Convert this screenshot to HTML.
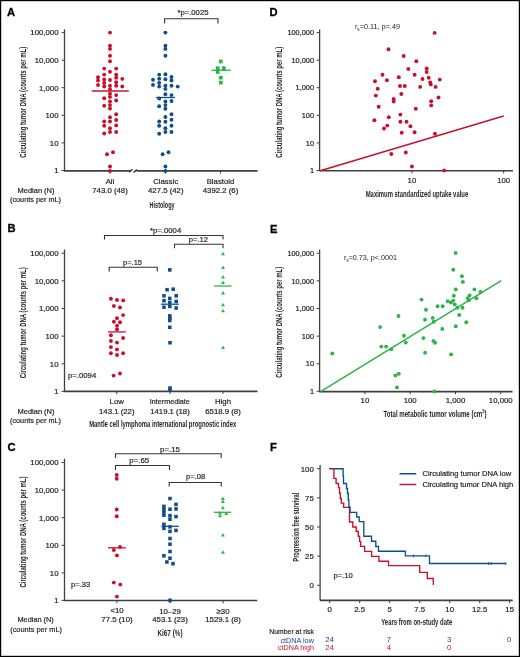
<!DOCTYPE html>
<html><head><meta charset="utf-8"><style>
html,body{margin:0;padding:0;background:#fff;}
svg{display:block;will-change:transform;font-family:"Liberation Sans",sans-serif;}
</style></head><body>
<svg width="520" height="657" viewBox="0 0 520 657">
<rect x="0" y="0" width="520" height="657" fill="#fff"/>
<text x="6.9" y="15.93" text-anchor="start" font-size="11.2" fill="#000" font-weight="bold" stroke="#000" stroke-width="0.3">A</text>
<text x="7.5" y="232.03" text-anchor="start" font-size="11.2" fill="#000" font-weight="bold" stroke="#000" stroke-width="0.3">B</text>
<text x="7.5" y="451.43" text-anchor="start" font-size="11.2" fill="#000" font-weight="bold" stroke="#000" stroke-width="0.3">C</text>
<text x="269.5" y="16.43" text-anchor="start" font-size="11.2" fill="#000" font-weight="bold" stroke="#000" stroke-width="0.3">D</text>
<text x="270" y="232.53" text-anchor="start" font-size="11.2" fill="#000" font-weight="bold" stroke="#000" stroke-width="0.3">E</text>
<text x="270" y="451.43" text-anchor="start" font-size="11.2" fill="#000" font-weight="bold" stroke="#000" stroke-width="0.3">F</text>
<line x1="64.5" y1="29.3" x2="64.5" y2="170.8" stroke="#404040" stroke-width="1.3"/>
<line x1="61.5" y1="32.6" x2="64.5" y2="32.6" stroke="#404040" stroke-width="1"/>
<text x="58.5" y="35.41" text-anchor="end" font-size="7.8" fill="#231f20" font-weight="normal" stroke="#231f20" stroke-width="0.2">100,000</text>
<line x1="61.5" y1="60.2" x2="64.5" y2="60.2" stroke="#404040" stroke-width="1"/>
<text x="58.5" y="63.01" text-anchor="end" font-size="7.8" fill="#231f20" font-weight="normal" stroke="#231f20" stroke-width="0.2">10,000</text>
<line x1="61.5" y1="87.7" x2="64.5" y2="87.7" stroke="#404040" stroke-width="1"/>
<text x="58.5" y="90.51" text-anchor="end" font-size="7.8" fill="#231f20" font-weight="normal" stroke="#231f20" stroke-width="0.2">1,000</text>
<line x1="61.5" y1="115.3" x2="64.5" y2="115.3" stroke="#404040" stroke-width="1"/>
<text x="58.5" y="118.11" text-anchor="end" font-size="7.8" fill="#231f20" font-weight="normal" stroke="#231f20" stroke-width="0.2">100</text>
<line x1="61.5" y1="142.9" x2="64.5" y2="142.9" stroke="#404040" stroke-width="1"/>
<text x="58.5" y="145.71" text-anchor="end" font-size="7.8" fill="#231f20" font-weight="normal" stroke="#231f20" stroke-width="0.2">10</text>
<line x1="61.5" y1="170.5" x2="64.5" y2="170.5" stroke="#404040" stroke-width="1"/>
<text x="58.5" y="173.31" text-anchor="end" font-size="7.8" fill="#231f20" font-weight="normal" stroke="#231f20" stroke-width="0.2">1</text>
<text transform="translate(22.6 102.3) rotate(-90)" x="0" y="2.95" text-anchor="middle" font-size="8.2" fill="#231f20" font-weight="bold" textLength="111" lengthAdjust="spacingAndGlyphs">Circulating tumor DNA (counts per mL)</text>
<line x1="63.8" y1="170.8" x2="130" y2="170.8" stroke="#404040" stroke-width="1.7"/>
<line x1="136.5" y1="170.8" x2="257.5" y2="170.8" stroke="#404040" stroke-width="1.7"/>
<line x1="129.2" y1="172.3" x2="132.4" y2="169.2" stroke="#222" stroke-width="1.3"/>
<line x1="133.6" y1="172.5" x2="136.8" y2="169.5" stroke="#222" stroke-width="1.3"/>
<line x1="110" y1="170.8" x2="110" y2="173.6" stroke="#404040" stroke-width="1"/>
<line x1="165.4" y1="170.8" x2="165.4" y2="173.6" stroke="#404040" stroke-width="1"/>
<line x1="220.5" y1="170.8" x2="220.5" y2="173.6" stroke="#404040" stroke-width="1"/>
<circle cx="110" cy="32.6" r="1.95" fill="#c8102e"/>
<circle cx="110" cy="45.8" r="1.95" fill="#c8102e"/>
<circle cx="110" cy="48.9" r="1.95" fill="#c8102e"/>
<circle cx="110" cy="55.8" r="1.95" fill="#c8102e"/>
<circle cx="110" cy="61.2" r="1.95" fill="#c8102e"/>
<circle cx="104.2" cy="68.6" r="1.95" fill="#c8102e"/>
<circle cx="116.2" cy="68.6" r="1.95" fill="#c8102e"/>
<circle cx="110" cy="71.7" r="1.95" fill="#c8102e"/>
<circle cx="104.2" cy="74.6" r="1.95" fill="#c8102e"/>
<circle cx="116.2" cy="74.6" r="1.95" fill="#c8102e"/>
<circle cx="98" cy="77.2" r="1.95" fill="#c8102e"/>
<circle cx="116.2" cy="77.7" r="1.95" fill="#c8102e"/>
<circle cx="122.3" cy="78.9" r="1.95" fill="#c8102e"/>
<circle cx="104.2" cy="79.5" r="1.95" fill="#c8102e"/>
<circle cx="110" cy="80" r="1.95" fill="#c8102e"/>
<circle cx="98" cy="80.5" r="1.95" fill="#c8102e"/>
<circle cx="116.2" cy="82.3" r="1.95" fill="#c8102e"/>
<circle cx="104.2" cy="83" r="1.95" fill="#c8102e"/>
<circle cx="98" cy="85" r="1.95" fill="#c8102e"/>
<circle cx="104.2" cy="86.5" r="1.95" fill="#c8102e"/>
<circle cx="110" cy="85.8" r="1.95" fill="#c8102e"/>
<circle cx="116.2" cy="85.8" r="1.95" fill="#c8102e"/>
<circle cx="122.3" cy="86.5" r="1.95" fill="#c8102e"/>
<circle cx="110" cy="89.2" r="1.95" fill="#c8102e"/>
<circle cx="110" cy="93.8" r="1.95" fill="#c8102e"/>
<circle cx="110" cy="96.9" r="1.95" fill="#c8102e"/>
<circle cx="116.2" cy="95.1" r="1.95" fill="#c8102e"/>
<circle cx="104.2" cy="98.2" r="1.95" fill="#c8102e"/>
<circle cx="116.2" cy="100.5" r="1.95" fill="#c8102e"/>
<circle cx="110" cy="101.5" r="1.95" fill="#c8102e"/>
<circle cx="104.2" cy="105.8" r="1.95" fill="#c8102e"/>
<circle cx="110" cy="105.1" r="1.95" fill="#c8102e"/>
<circle cx="110" cy="108.5" r="1.95" fill="#c8102e"/>
<circle cx="116.2" cy="114.3" r="1.95" fill="#c8102e"/>
<circle cx="110" cy="117.2" r="1.95" fill="#c8102e"/>
<circle cx="104.2" cy="121.5" r="1.95" fill="#c8102e"/>
<circle cx="110" cy="121.5" r="1.95" fill="#c8102e"/>
<circle cx="116.2" cy="120" r="1.95" fill="#c8102e"/>
<circle cx="104.2" cy="125.8" r="1.95" fill="#c8102e"/>
<circle cx="116.2" cy="125.4" r="1.95" fill="#c8102e"/>
<circle cx="110" cy="128.2" r="1.95" fill="#c8102e"/>
<circle cx="110" cy="132" r="1.95" fill="#c8102e"/>
<circle cx="116.2" cy="132" r="1.95" fill="#c8102e"/>
<circle cx="104.2" cy="133.5" r="1.95" fill="#c8102e"/>
<circle cx="107" cy="154.2" r="1.95" fill="#c8102e"/>
<circle cx="113" cy="152.3" r="1.95" fill="#c8102e"/>
<circle cx="110" cy="166.5" r="1.95" fill="#c8102e"/>
<circle cx="110" cy="171" r="1.95" fill="#c8102e"/>
<line x1="91.8" y1="91" x2="128.8" y2="91" stroke="#c8102e" stroke-width="1.3"/>
<circle cx="165.4" cy="32.6" r="1.95" fill="#0e4e8b"/>
<circle cx="165.4" cy="45.8" r="1.95" fill="#0e4e8b"/>
<circle cx="165.4" cy="48.9" r="1.95" fill="#0e4e8b"/>
<circle cx="165.4" cy="55.8" r="1.95" fill="#0e4e8b"/>
<circle cx="159.2" cy="74.6" r="1.95" fill="#0e4e8b"/>
<circle cx="165.4" cy="74.3" r="1.95" fill="#0e4e8b"/>
<circle cx="171.5" cy="77" r="1.95" fill="#0e4e8b"/>
<circle cx="153" cy="79.7" r="1.95" fill="#0e4e8b"/>
<circle cx="159.2" cy="78.8" r="1.95" fill="#0e4e8b"/>
<circle cx="165.4" cy="79.2" r="1.95" fill="#0e4e8b"/>
<circle cx="171.5" cy="80.5" r="1.95" fill="#0e4e8b"/>
<circle cx="153" cy="84.9" r="1.95" fill="#0e4e8b"/>
<circle cx="159.2" cy="83" r="1.95" fill="#0e4e8b"/>
<circle cx="159.2" cy="86.6" r="1.95" fill="#0e4e8b"/>
<circle cx="165.4" cy="85.8" r="1.95" fill="#0e4e8b"/>
<circle cx="171.5" cy="85.8" r="1.95" fill="#0e4e8b"/>
<circle cx="177.7" cy="86.6" r="1.95" fill="#0e4e8b"/>
<circle cx="165.4" cy="88.9" r="1.95" fill="#0e4e8b"/>
<circle cx="165.4" cy="94.3" r="1.95" fill="#0e4e8b"/>
<circle cx="171.5" cy="95.1" r="1.95" fill="#0e4e8b"/>
<circle cx="159.2" cy="98.5" r="1.95" fill="#0e4e8b"/>
<circle cx="165.4" cy="101.5" r="1.95" fill="#0e4e8b"/>
<circle cx="171.5" cy="101" r="1.95" fill="#0e4e8b"/>
<circle cx="159.2" cy="106.2" r="1.95" fill="#0e4e8b"/>
<circle cx="165.4" cy="105.1" r="1.95" fill="#0e4e8b"/>
<circle cx="165.4" cy="108.8" r="1.95" fill="#0e4e8b"/>
<circle cx="171.5" cy="114.3" r="1.95" fill="#0e4e8b"/>
<circle cx="165.4" cy="117" r="1.95" fill="#0e4e8b"/>
<circle cx="171.5" cy="119.7" r="1.95" fill="#0e4e8b"/>
<circle cx="159.2" cy="121.5" r="1.95" fill="#0e4e8b"/>
<circle cx="165.4" cy="121.8" r="1.95" fill="#0e4e8b"/>
<circle cx="159.2" cy="125.8" r="1.95" fill="#0e4e8b"/>
<circle cx="171.5" cy="125.8" r="1.95" fill="#0e4e8b"/>
<circle cx="165.4" cy="128.2" r="1.95" fill="#0e4e8b"/>
<circle cx="165.4" cy="132" r="1.95" fill="#0e4e8b"/>
<circle cx="171.5" cy="132" r="1.95" fill="#0e4e8b"/>
<circle cx="159.2" cy="133.8" r="1.95" fill="#0e4e8b"/>
<circle cx="162.6" cy="154.2" r="1.95" fill="#0e4e8b"/>
<circle cx="168.5" cy="152.3" r="1.95" fill="#0e4e8b"/>
<circle cx="165.4" cy="166.5" r="1.95" fill="#0e4e8b"/>
<circle cx="165.4" cy="171" r="1.95" fill="#0e4e8b"/>
<line x1="156" y1="97.5" x2="175" y2="97.5" stroke="#0e4e8b" stroke-width="1.3"/>
<rect x="218.95" y="59.65" width="3.7" height="3.7" fill="#2db34a"/>
<rect x="215.85" y="66.35" width="3.7" height="3.7" fill="#2db34a"/>
<rect x="221.95" y="66.35" width="3.7" height="3.7" fill="#2db34a"/>
<rect x="215.85" y="70.15" width="3.7" height="3.7" fill="#2db34a"/>
<rect x="218.95" y="75.85" width="3.7" height="3.7" fill="#2db34a"/>
<rect x="218.95" y="80.75" width="3.7" height="3.7" fill="#2db34a"/>
<line x1="211.5" y1="70.3" x2="230.8" y2="70.3" stroke="#2db34a" stroke-width="1.3"/>
<path d="M164.6 23.4V18.8H218V23.4" fill="none" stroke="#333" stroke-width="1.1"/>
<text x="192.95" y="15.41" text-anchor="middle" font-size="7.8" fill="#231f20" font-weight="normal" textLength="31.1" lengthAdjust="spacingAndGlyphs" stroke="#231f20" stroke-width="0.2">*p=.0025</text>
<text x="110" y="184.11" text-anchor="middle" font-size="7.8" fill="#231f20" font-weight="normal" stroke="#231f20" stroke-width="0.2">All</text>
<text x="110" y="192.91" text-anchor="middle" font-size="7.8" fill="#231f20" font-weight="normal" textLength="35.5" lengthAdjust="spacingAndGlyphs" stroke="#231f20" stroke-width="0.2">743.0 (48)</text>
<text x="165.75" y="184.11" text-anchor="middle" font-size="7.8" fill="#231f20" font-weight="normal" stroke="#231f20" stroke-width="0.2">Classic</text>
<text x="165.75" y="192.91" text-anchor="middle" font-size="7.8" fill="#231f20" font-weight="normal" textLength="35.5" lengthAdjust="spacingAndGlyphs" stroke="#231f20" stroke-width="0.2">427.5 (42)</text>
<text x="220.5" y="184.11" text-anchor="middle" font-size="7.8" fill="#231f20" font-weight="normal" stroke="#231f20" stroke-width="0.2">Blastoid</text>
<text x="220.5" y="192.91" text-anchor="middle" font-size="7.8" fill="#231f20" font-weight="normal" textLength="35.5" lengthAdjust="spacingAndGlyphs" stroke="#231f20" stroke-width="0.2">4392.2 (6)</text>
<text x="36" y="193.31" text-anchor="middle" font-size="7.8" fill="#231f20" font-weight="normal" textLength="37" lengthAdjust="spacingAndGlyphs" stroke="#231f20" stroke-width="0.2">Median (N)</text>
<text x="35.5" y="201.81" text-anchor="middle" font-size="7.8" fill="#231f20" font-weight="normal" textLength="51" lengthAdjust="spacingAndGlyphs" stroke="#231f20" stroke-width="0.2">(counts per mL)</text>
<text x="162.1" y="207.61" text-anchor="middle" font-size="9.2" fill="#231f20" font-weight="bold" textLength="25" lengthAdjust="spacingAndGlyphs">Histology</text>
<line x1="64.5" y1="249.5" x2="64.5" y2="391.6" stroke="#404040" stroke-width="1.3"/>
<line x1="61.5" y1="253.2" x2="64.5" y2="253.2" stroke="#404040" stroke-width="1"/>
<text x="58.5" y="256.01" text-anchor="end" font-size="7.8" fill="#231f20" font-weight="normal" stroke="#231f20" stroke-width="0.2">100,000</text>
<line x1="61.5" y1="280.85" x2="64.5" y2="280.85" stroke="#404040" stroke-width="1"/>
<text x="58.5" y="283.66" text-anchor="end" font-size="7.8" fill="#231f20" font-weight="normal" stroke="#231f20" stroke-width="0.2">10,000</text>
<line x1="61.5" y1="308.5" x2="64.5" y2="308.5" stroke="#404040" stroke-width="1"/>
<text x="58.5" y="311.31" text-anchor="end" font-size="7.8" fill="#231f20" font-weight="normal" stroke="#231f20" stroke-width="0.2">1,000</text>
<line x1="61.5" y1="336.15" x2="64.5" y2="336.15" stroke="#404040" stroke-width="1"/>
<text x="58.5" y="338.96" text-anchor="end" font-size="7.8" fill="#231f20" font-weight="normal" stroke="#231f20" stroke-width="0.2">100</text>
<line x1="61.5" y1="363.8" x2="64.5" y2="363.8" stroke="#404040" stroke-width="1"/>
<text x="58.5" y="366.61" text-anchor="end" font-size="7.8" fill="#231f20" font-weight="normal" stroke="#231f20" stroke-width="0.2">10</text>
<line x1="61.5" y1="391.3" x2="64.5" y2="391.3" stroke="#404040" stroke-width="1"/>
<text x="58.5" y="394.11" text-anchor="end" font-size="7.8" fill="#231f20" font-weight="normal" stroke="#231f20" stroke-width="0.2">1</text>
<text transform="translate(22.6 322.8) rotate(-90)" x="0" y="2.95" text-anchor="middle" font-size="8.2" fill="#231f20" font-weight="bold" textLength="111" lengthAdjust="spacingAndGlyphs">Circulating tumor DNA (counts per mL)</text>
<line x1="63.8" y1="391.4" x2="257.5" y2="391.4" stroke="#404040" stroke-width="1.7"/>
<line x1="116.75" y1="391.4" x2="116.75" y2="394" stroke="#404040" stroke-width="1"/>
<line x1="170" y1="391.4" x2="170" y2="394" stroke="#404040" stroke-width="1"/>
<line x1="223" y1="391.4" x2="223" y2="394" stroke="#404040" stroke-width="1"/>
<circle cx="110.9" cy="298.8" r="1.95" fill="#c8102e"/>
<circle cx="117" cy="300" r="1.95" fill="#c8102e"/>
<circle cx="123.2" cy="300.4" r="1.95" fill="#c8102e"/>
<circle cx="113.9" cy="306" r="1.95" fill="#c8102e"/>
<circle cx="120" cy="307.5" r="1.95" fill="#c8102e"/>
<circle cx="123.1" cy="315.1" r="1.95" fill="#c8102e"/>
<circle cx="117" cy="318.2" r="1.95" fill="#c8102e"/>
<circle cx="113.9" cy="321.7" r="1.95" fill="#c8102e"/>
<circle cx="120" cy="322.3" r="1.95" fill="#c8102e"/>
<circle cx="117" cy="325.6" r="1.95" fill="#c8102e"/>
<circle cx="117" cy="329.3" r="1.95" fill="#c8102e"/>
<circle cx="110.9" cy="335.2" r="1.95" fill="#c8102e"/>
<circle cx="123.1" cy="338" r="1.95" fill="#c8102e"/>
<circle cx="110.9" cy="341" r="1.95" fill="#c8102e"/>
<circle cx="117" cy="342.6" r="1.95" fill="#c8102e"/>
<circle cx="110.9" cy="347.1" r="1.95" fill="#c8102e"/>
<circle cx="117" cy="349.4" r="1.95" fill="#c8102e"/>
<circle cx="110.9" cy="353.2" r="1.95" fill="#c8102e"/>
<circle cx="117" cy="355" r="1.95" fill="#c8102e"/>
<circle cx="123.1" cy="353.2" r="1.95" fill="#c8102e"/>
<circle cx="113.6" cy="375.6" r="1.95" fill="#c8102e"/>
<circle cx="120" cy="373.5" r="1.95" fill="#c8102e"/>
<line x1="108" y1="331.9" x2="125.8" y2="331.9" stroke="#c8102e" stroke-width="1.3"/>
<rect x="168.03" y="268.12" width="3.55" height="3.55" fill="#0e4e8b"/>
<rect x="165.32" y="287.93" width="3.55" height="3.55" fill="#0e4e8b"/>
<rect x="171.42" y="287.43" width="3.55" height="3.55" fill="#0e4e8b"/>
<rect x="162.22" y="294.03" width="3.55" height="3.55" fill="#0e4e8b"/>
<rect x="174.42" y="294.03" width="3.55" height="3.55" fill="#0e4e8b"/>
<rect x="168.03" y="296.62" width="3.55" height="3.55" fill="#0e4e8b"/>
<rect x="162.22" y="298.93" width="3.55" height="3.55" fill="#0e4e8b"/>
<rect x="174.42" y="299.62" width="3.55" height="3.55" fill="#0e4e8b"/>
<rect x="168.03" y="300.73" width="3.55" height="3.55" fill="#0e4e8b"/>
<rect x="162.22" y="305.43" width="3.55" height="3.55" fill="#0e4e8b"/>
<rect x="168.03" y="304.62" width="3.55" height="3.55" fill="#0e4e8b"/>
<rect x="174.42" y="306.23" width="3.55" height="3.55" fill="#0e4e8b"/>
<rect x="168.03" y="314.12" width="3.55" height="3.55" fill="#0e4e8b"/>
<rect x="168.03" y="316.43" width="3.55" height="3.55" fill="#0e4e8b"/>
<rect x="168.03" y="318.73" width="3.55" height="3.55" fill="#0e4e8b"/>
<rect x="168.03" y="325.53" width="3.55" height="3.55" fill="#0e4e8b"/>
<rect x="168.22" y="340.93" width="3.55" height="3.55" fill="#0e4e8b"/>
<rect x="168.22" y="386.23" width="3.55" height="3.55" fill="#0e4e8b"/>
<rect x="168.22" y="388.43" width="3.55" height="3.55" fill="#0e4e8b"/>
<line x1="161" y1="304.2" x2="178.8" y2="304.2" stroke="#0e4e8b" stroke-width="1.3"/>
<path d="M223 251.65L224.95 255.16L221.05 255.16Z" fill="#2db34a"/>
<path d="M223 265.44L224.95 268.95L221.05 268.95Z" fill="#2db34a"/>
<path d="M223 275.05L224.95 278.56L221.05 278.56Z" fill="#2db34a"/>
<path d="M223 280.44L224.95 283.95L221.05 283.95Z" fill="#2db34a"/>
<path d="M223 291.05L224.95 294.56L221.05 294.56Z" fill="#2db34a"/>
<path d="M223 302.85L224.95 306.36L221.05 306.36Z" fill="#2db34a"/>
<path d="M223 308.75L224.95 312.25L221.05 312.25Z" fill="#2db34a"/>
<path d="M223 345.44L224.95 348.95L221.05 348.95Z" fill="#2db34a"/>
<line x1="214" y1="286" x2="231.6" y2="286" stroke="#2db34a" stroke-width="1.3"/>
<path d="M104.5 239.5V235.5H223V239.5" fill="none" stroke="#333" stroke-width="1.1"/>
<path d="M174.5 248.3V244.3H223V248.3" fill="none" stroke="#333" stroke-width="1.1"/>
<path d="M109.2 271.4V267.3H157.3V271.4" fill="none" stroke="#333" stroke-width="1.1"/>
<text x="165.62" y="232.81" text-anchor="middle" font-size="7.8" fill="#231f20" font-weight="normal" textLength="31.25" lengthAdjust="spacingAndGlyphs" stroke="#231f20" stroke-width="0.2">*p=.0004</text>
<text x="198.38" y="242.31" text-anchor="middle" font-size="7.8" fill="#231f20" font-weight="normal" textLength="19.25" lengthAdjust="spacingAndGlyphs" stroke="#231f20" stroke-width="0.2">p=.12</text>
<text x="132.5" y="264.61" text-anchor="middle" font-size="7.8" fill="#231f20" font-weight="normal" textLength="19" lengthAdjust="spacingAndGlyphs" stroke="#231f20" stroke-width="0.2">p=.15</text>
<text x="82.12" y="377.81" text-anchor="middle" font-size="7.8" fill="#231f20" font-weight="normal" textLength="28.25" lengthAdjust="spacingAndGlyphs" stroke="#231f20" stroke-width="0.2">p=.0094</text>
<text x="116.75" y="404.11" text-anchor="middle" font-size="7.8" fill="#231f20" font-weight="normal" stroke="#231f20" stroke-width="0.2">Low</text>
<text x="116.75" y="413.61" text-anchor="middle" font-size="7.8" fill="#231f20" font-weight="normal" textLength="35.5" lengthAdjust="spacingAndGlyphs" stroke="#231f20" stroke-width="0.2">143.1 (22)</text>
<text x="169.8" y="404.11" text-anchor="middle" font-size="7.8" fill="#231f20" font-weight="normal" textLength="40" lengthAdjust="spacingAndGlyphs" stroke="#231f20" stroke-width="0.2">Intermediate</text>
<text x="170" y="413.61" text-anchor="middle" font-size="7.8" fill="#231f20" font-weight="normal" textLength="39.5" lengthAdjust="spacingAndGlyphs" stroke="#231f20" stroke-width="0.2">1419.1 (18)</text>
<text x="223" y="404.11" text-anchor="middle" font-size="7.8" fill="#231f20" font-weight="normal" stroke="#231f20" stroke-width="0.2">High</text>
<text x="223" y="413.61" text-anchor="middle" font-size="7.8" fill="#231f20" font-weight="normal" textLength="35.5" lengthAdjust="spacingAndGlyphs" stroke="#231f20" stroke-width="0.2">6518.9 (8)</text>
<text x="36" y="414.11" text-anchor="middle" font-size="7.8" fill="#231f20" font-weight="normal" textLength="37" lengthAdjust="spacingAndGlyphs" stroke="#231f20" stroke-width="0.2">Median (N)</text>
<text x="35.5" y="422.81" text-anchor="middle" font-size="7.8" fill="#231f20" font-weight="normal" textLength="51" lengthAdjust="spacingAndGlyphs" stroke="#231f20" stroke-width="0.2">(counts per mL)</text>
<text x="162.7" y="426.61" text-anchor="middle" font-size="9.2" fill="#231f20" font-weight="bold" textLength="147" lengthAdjust="spacingAndGlyphs">Mantle cell lymphoma international prognostic index</text>
<line x1="64.5" y1="458.75" x2="64.5" y2="600.7" stroke="#404040" stroke-width="1.3"/>
<line x1="61.5" y1="462.5" x2="64.5" y2="462.5" stroke="#404040" stroke-width="1"/>
<text x="58.5" y="465.31" text-anchor="end" font-size="7.8" fill="#231f20" font-weight="normal" stroke="#231f20" stroke-width="0.2">100,000</text>
<line x1="61.5" y1="490.1" x2="64.5" y2="490.1" stroke="#404040" stroke-width="1"/>
<text x="58.5" y="492.91" text-anchor="end" font-size="7.8" fill="#231f20" font-weight="normal" stroke="#231f20" stroke-width="0.2">10,000</text>
<line x1="61.5" y1="517.7" x2="64.5" y2="517.7" stroke="#404040" stroke-width="1"/>
<text x="58.5" y="520.51" text-anchor="end" font-size="7.8" fill="#231f20" font-weight="normal" stroke="#231f20" stroke-width="0.2">1,000</text>
<line x1="61.5" y1="545.3" x2="64.5" y2="545.3" stroke="#404040" stroke-width="1"/>
<text x="58.5" y="548.11" text-anchor="end" font-size="7.8" fill="#231f20" font-weight="normal" stroke="#231f20" stroke-width="0.2">100</text>
<line x1="61.5" y1="572.9" x2="64.5" y2="572.9" stroke="#404040" stroke-width="1"/>
<text x="58.5" y="575.71" text-anchor="end" font-size="7.8" fill="#231f20" font-weight="normal" stroke="#231f20" stroke-width="0.2">10</text>
<line x1="61.5" y1="600.4" x2="64.5" y2="600.4" stroke="#404040" stroke-width="1"/>
<text x="58.5" y="603.21" text-anchor="end" font-size="7.8" fill="#231f20" font-weight="normal" stroke="#231f20" stroke-width="0.2">1</text>
<text transform="translate(22.6 532) rotate(-90)" x="0" y="2.95" text-anchor="middle" font-size="8.2" fill="#231f20" font-weight="bold" textLength="111" lengthAdjust="spacingAndGlyphs">Circulating tumor DNA (counts per mL)</text>
<line x1="63.8" y1="600.5" x2="257.3" y2="600.5" stroke="#404040" stroke-width="1.7"/>
<line x1="116.9" y1="600.5" x2="116.9" y2="603.3" stroke="#404040" stroke-width="1"/>
<line x1="170" y1="600.5" x2="170" y2="603.3" stroke="#404040" stroke-width="1"/>
<line x1="223.1" y1="600.5" x2="223.1" y2="603.3" stroke="#404040" stroke-width="1"/>
<circle cx="116.75" cy="475" r="1.95" fill="#c8102e"/>
<circle cx="116.75" cy="478.75" r="1.95" fill="#c8102e"/>
<circle cx="116.75" cy="509.5" r="1.95" fill="#c8102e"/>
<circle cx="116.75" cy="516.25" r="1.95" fill="#c8102e"/>
<circle cx="120" cy="546.9" r="1.95" fill="#c8102e"/>
<circle cx="113.8" cy="550" r="1.95" fill="#c8102e"/>
<circle cx="116.9" cy="555.4" r="1.95" fill="#c8102e"/>
<circle cx="113.8" cy="582.6" r="1.95" fill="#c8102e"/>
<circle cx="120.3" cy="584.6" r="1.95" fill="#c8102e"/>
<circle cx="116.9" cy="596.6" r="1.95" fill="#c8102e"/>
<line x1="108" y1="547.8" x2="125.8" y2="547.8" stroke="#c8102e" stroke-width="1.3"/>
<rect x="168.22" y="496.73" width="3.55" height="3.55" fill="#0e4e8b"/>
<rect x="174.22" y="502.62" width="3.55" height="3.55" fill="#0e4e8b"/>
<rect x="174.22" y="507.12" width="3.55" height="3.55" fill="#0e4e8b"/>
<rect x="162.12" y="504.62" width="3.55" height="3.55" fill="#0e4e8b"/>
<rect x="162.12" y="507.73" width="3.55" height="3.55" fill="#0e4e8b"/>
<rect x="162.12" y="510.43" width="3.55" height="3.55" fill="#0e4e8b"/>
<rect x="168.22" y="507.43" width="3.55" height="3.55" fill="#0e4e8b"/>
<rect x="162.12" y="513.52" width="3.55" height="3.55" fill="#0e4e8b"/>
<rect x="168.22" y="513.83" width="3.55" height="3.55" fill="#0e4e8b"/>
<rect x="168.22" y="517.43" width="3.55" height="3.55" fill="#0e4e8b"/>
<rect x="174.22" y="514.83" width="3.55" height="3.55" fill="#0e4e8b"/>
<rect x="162.12" y="522.52" width="3.55" height="3.55" fill="#0e4e8b"/>
<rect x="162.12" y="526.62" width="3.55" height="3.55" fill="#0e4e8b"/>
<rect x="168.22" y="525.12" width="3.55" height="3.55" fill="#0e4e8b"/>
<rect x="168.22" y="529.62" width="3.55" height="3.55" fill="#0e4e8b"/>
<rect x="174.22" y="528.62" width="3.55" height="3.55" fill="#0e4e8b"/>
<rect x="168.22" y="536.73" width="3.55" height="3.55" fill="#0e4e8b"/>
<rect x="168.22" y="542.43" width="3.55" height="3.55" fill="#0e4e8b"/>
<rect x="168.22" y="549.73" width="3.55" height="3.55" fill="#0e4e8b"/>
<rect x="162.12" y="554.02" width="3.55" height="3.55" fill="#0e4e8b"/>
<rect x="168.22" y="556.43" width="3.55" height="3.55" fill="#0e4e8b"/>
<rect x="165.12" y="560.23" width="3.55" height="3.55" fill="#0e4e8b"/>
<rect x="171.22" y="561.93" width="3.55" height="3.55" fill="#0e4e8b"/>
<circle cx="170" cy="600.4" r="2.1" fill="#0e4e8b"/>
<line x1="161.4" y1="526.3" x2="178.8" y2="526.3" stroke="#0e4e8b" stroke-width="1.3"/>
<path d="M222.9 496.55L224.85 500.06L220.95 500.06Z" fill="#2db34a"/>
<path d="M222.9 499.44L224.85 502.95L220.95 502.95Z" fill="#2db34a"/>
<path d="M222.9 505.75L224.85 509.25L220.95 509.25Z" fill="#2db34a"/>
<path d="M220 510.95L221.95 514.46L218.05 514.46Z" fill="#2db34a"/>
<path d="M226.3 511.54L228.25 515.05L224.35 515.05Z" fill="#2db34a"/>
<path d="M220 513.85L221.95 517.36L218.05 517.36Z" fill="#2db34a"/>
<path d="M222.9 533.04L224.85 536.55L220.95 536.55Z" fill="#2db34a"/>
<path d="M223 550.25L224.95 553.75L221.05 553.75Z" fill="#2db34a"/>
<line x1="213.8" y1="512.3" x2="231.2" y2="512.3" stroke="#2db34a" stroke-width="1.3"/>
<path d="M115.5 458V453.75H221.25V458" fill="none" stroke="#333" stroke-width="1.1"/>
<path d="M115.5 470V465.5H169.5V470" fill="none" stroke="#333" stroke-width="1.1"/>
<path d="M169.2 486.5V482.5H221.2V486.5" fill="none" stroke="#333" stroke-width="1.1"/>
<text x="170" y="451.61" text-anchor="middle" font-size="7.8" fill="#231f20" font-weight="normal" textLength="20" lengthAdjust="spacingAndGlyphs" stroke="#231f20" stroke-width="0.2">p=.15</text>
<text x="139.25" y="463.31" text-anchor="middle" font-size="7.8" fill="#231f20" font-weight="normal" textLength="20" lengthAdjust="spacingAndGlyphs" stroke="#231f20" stroke-width="0.2">p=.65</text>
<text x="195.6" y="479.11" text-anchor="middle" font-size="7.8" fill="#231f20" font-weight="normal" textLength="19.2" lengthAdjust="spacingAndGlyphs" stroke="#231f20" stroke-width="0.2">p=.08</text>
<text x="80.65" y="587.01" text-anchor="middle" font-size="7.8" fill="#231f20" font-weight="normal" textLength="19.3" lengthAdjust="spacingAndGlyphs" stroke="#231f20" stroke-width="0.2">p=.33</text>
<text x="117" y="613.31" text-anchor="middle" font-size="7.8" fill="#231f20" font-weight="normal" stroke="#231f20" stroke-width="0.2">&lt;10</text>
<text x="117" y="622.41" text-anchor="middle" font-size="7.8" fill="#231f20" font-weight="normal" textLength="31.5" lengthAdjust="spacingAndGlyphs" stroke="#231f20" stroke-width="0.2">77.5 (10)</text>
<text x="170" y="613.61" text-anchor="middle" font-size="7.8" fill="#231f20" font-weight="normal" stroke="#231f20" stroke-width="0.2">10–29</text>
<text x="170" y="622.41" text-anchor="middle" font-size="7.8" fill="#231f20" font-weight="normal" textLength="35.5" lengthAdjust="spacingAndGlyphs" stroke="#231f20" stroke-width="0.2">453.1 (23)</text>
<text x="223" y="613.61" text-anchor="middle" font-size="7.8" fill="#231f20" font-weight="normal" stroke="#231f20" stroke-width="0.2">≥30</text>
<text x="223" y="622.41" text-anchor="middle" font-size="7.8" fill="#231f20" font-weight="normal" textLength="35.5" lengthAdjust="spacingAndGlyphs" stroke="#231f20" stroke-width="0.2">1529.1 (8)</text>
<text x="35.65" y="622.41" text-anchor="middle" font-size="7.8" fill="#231f20" font-weight="normal" textLength="36.3" lengthAdjust="spacingAndGlyphs" stroke="#231f20" stroke-width="0.2">Median (N)</text>
<text x="36.1" y="632.41" text-anchor="middle" font-size="7.8" fill="#231f20" font-weight="normal" textLength="51.8" lengthAdjust="spacingAndGlyphs" stroke="#231f20" stroke-width="0.2">(counts per mL)</text>
<text x="170" y="636.11" text-anchor="middle" font-size="9.2" fill="#231f20" font-weight="bold" textLength="25" lengthAdjust="spacingAndGlyphs">Ki67 (%)</text>
<line x1="319.6" y1="29.5" x2="319.6" y2="170.8" stroke="#404040" stroke-width="1.3"/>
<line x1="316.6" y1="32.6" x2="319.6" y2="32.6" stroke="#404040" stroke-width="1"/>
<text x="314.1" y="35.26" text-anchor="end" font-size="7.4" fill="#231f20" font-weight="normal" stroke="#231f20" stroke-width="0.2">100,000</text>
<line x1="316.6" y1="60.2" x2="319.6" y2="60.2" stroke="#404040" stroke-width="1"/>
<text x="314.1" y="62.86" text-anchor="end" font-size="7.4" fill="#231f20" font-weight="normal" stroke="#231f20" stroke-width="0.2">10,000</text>
<line x1="316.6" y1="87.7" x2="319.6" y2="87.7" stroke="#404040" stroke-width="1"/>
<text x="314.1" y="90.36" text-anchor="end" font-size="7.4" fill="#231f20" font-weight="normal" stroke="#231f20" stroke-width="0.2">1,000</text>
<line x1="316.6" y1="115.3" x2="319.6" y2="115.3" stroke="#404040" stroke-width="1"/>
<text x="314.1" y="117.96" text-anchor="end" font-size="7.4" fill="#231f20" font-weight="normal" stroke="#231f20" stroke-width="0.2">100</text>
<line x1="316.6" y1="142.9" x2="319.6" y2="142.9" stroke="#404040" stroke-width="1"/>
<text x="314.1" y="145.56" text-anchor="end" font-size="7.4" fill="#231f20" font-weight="normal" stroke="#231f20" stroke-width="0.2">10</text>
<line x1="316.6" y1="170.5" x2="319.6" y2="170.5" stroke="#404040" stroke-width="1"/>
<text x="314.1" y="173.16" text-anchor="end" font-size="7.4" fill="#231f20" font-weight="normal" stroke="#231f20" stroke-width="0.2">1</text>
<text transform="translate(279.4 102.3) rotate(-90)" x="0" y="2.95" text-anchor="middle" font-size="8.2" fill="#231f20" font-weight="bold" textLength="111" lengthAdjust="spacingAndGlyphs">Circulating tumor DNA (counts per mL)</text>
<line x1="319.3" y1="170.8" x2="512.9" y2="170.8" stroke="#404040" stroke-width="1.5"/>
<line x1="411.9" y1="170.8" x2="411.9" y2="173.4" stroke="#404040" stroke-width="1"/>
<line x1="503.7" y1="170.8" x2="503.7" y2="173.4" stroke="#404040" stroke-width="1"/>
<text x="411.9" y="182.91" text-anchor="middle" font-size="7.8" fill="#231f20" font-weight="normal" stroke="#231f20" stroke-width="0.2">10</text>
<text x="503.7" y="182.91" text-anchor="middle" font-size="7.8" fill="#231f20" font-weight="normal" stroke="#231f20" stroke-width="0.2">100</text>
<text x="416.95" y="196.91" text-anchor="middle" font-size="9.2" fill="#231f20" font-weight="bold" textLength="102.5" lengthAdjust="spacingAndGlyphs">Maximum standardized uptake value</text>
<line x1="320.2" y1="170.8" x2="503.7" y2="116" stroke="#c8102e" stroke-width="1.5"/>
<circle cx="434.6" cy="32.9" r="1.95" fill="#c8102e"/>
<circle cx="388.5" cy="49.2" r="1.95" fill="#c8102e"/>
<circle cx="403.7" cy="56" r="1.95" fill="#c8102e"/>
<circle cx="416.3" cy="61.3" r="1.95" fill="#c8102e"/>
<circle cx="408.3" cy="69" r="1.95" fill="#c8102e"/>
<circle cx="426.7" cy="68.5" r="1.95" fill="#c8102e"/>
<circle cx="426.7" cy="72" r="1.95" fill="#c8102e"/>
<circle cx="382.5" cy="74.8" r="1.95" fill="#c8102e"/>
<circle cx="414.6" cy="74.8" r="1.95" fill="#c8102e"/>
<circle cx="398.8" cy="77.3" r="1.95" fill="#c8102e"/>
<circle cx="428.7" cy="77.7" r="1.95" fill="#c8102e"/>
<circle cx="422.5" cy="79" r="1.95" fill="#c8102e"/>
<circle cx="439.8" cy="79.6" r="1.95" fill="#c8102e"/>
<circle cx="386.9" cy="80.2" r="1.95" fill="#c8102e"/>
<circle cx="375" cy="81.2" r="1.95" fill="#c8102e"/>
<circle cx="430.2" cy="82.5" r="1.95" fill="#c8102e"/>
<circle cx="430.8" cy="84.4" r="1.95" fill="#c8102e"/>
<circle cx="400" cy="86" r="1.95" fill="#c8102e"/>
<circle cx="404.8" cy="86" r="1.95" fill="#c8102e"/>
<circle cx="420.2" cy="86.9" r="1.95" fill="#c8102e"/>
<circle cx="435.6" cy="86.9" r="1.95" fill="#c8102e"/>
<circle cx="377.7" cy="88.8" r="1.95" fill="#c8102e"/>
<circle cx="401.3" cy="94" r="1.95" fill="#c8102e"/>
<circle cx="375.8" cy="95.6" r="1.95" fill="#c8102e"/>
<circle cx="438.5" cy="97.5" r="1.95" fill="#c8102e"/>
<circle cx="393.7" cy="99" r="1.95" fill="#c8102e"/>
<circle cx="431.2" cy="101.2" r="1.95" fill="#c8102e"/>
<circle cx="393.7" cy="101.5" r="1.95" fill="#c8102e"/>
<circle cx="431.2" cy="105.4" r="1.95" fill="#c8102e"/>
<circle cx="378.7" cy="106.7" r="1.95" fill="#c8102e"/>
<circle cx="415.8" cy="108.7" r="1.95" fill="#c8102e"/>
<circle cx="400.4" cy="114.6" r="1.95" fill="#c8102e"/>
<circle cx="388.8" cy="117.3" r="1.95" fill="#c8102e"/>
<circle cx="374.4" cy="120.2" r="1.95" fill="#c8102e"/>
<circle cx="400.4" cy="121.7" r="1.95" fill="#c8102e"/>
<circle cx="406.5" cy="121.7" r="1.95" fill="#c8102e"/>
<circle cx="387.3" cy="125.6" r="1.95" fill="#c8102e"/>
<circle cx="410.4" cy="126.2" r="1.95" fill="#c8102e"/>
<circle cx="384" cy="128.5" r="1.95" fill="#c8102e"/>
<circle cx="401.7" cy="132.7" r="1.95" fill="#c8102e"/>
<circle cx="414.6" cy="132.3" r="1.95" fill="#c8102e"/>
<circle cx="435" cy="133.8" r="1.95" fill="#c8102e"/>
<circle cx="391.3" cy="154" r="1.95" fill="#c8102e"/>
<circle cx="405.8" cy="152.5" r="1.95" fill="#c8102e"/>
<circle cx="411.9" cy="166.5" r="1.95" fill="#c8102e"/>
<circle cx="444.2" cy="170.4" r="1.95" fill="#c8102e"/>
<text x="354.9" y="29" font-size="7.8" textLength="45.1" lengthAdjust="spacingAndGlyphs" fill="#231f20">r<tspan font-size="5" dy="1.5">s</tspan><tspan dy="-1.5">=0.11, p=.49</tspan></text>
<line x1="319.6" y1="249.5" x2="319.6" y2="391.6" stroke="#404040" stroke-width="1.3"/>
<line x1="316.6" y1="253.2" x2="319.6" y2="253.2" stroke="#404040" stroke-width="1"/>
<text x="314.1" y="255.86" text-anchor="end" font-size="7.4" fill="#231f20" font-weight="normal" stroke="#231f20" stroke-width="0.2">100,000</text>
<line x1="316.6" y1="280.85" x2="319.6" y2="280.85" stroke="#404040" stroke-width="1"/>
<text x="314.1" y="283.51" text-anchor="end" font-size="7.4" fill="#231f20" font-weight="normal" stroke="#231f20" stroke-width="0.2">10,000</text>
<line x1="316.6" y1="308.5" x2="319.6" y2="308.5" stroke="#404040" stroke-width="1"/>
<text x="314.1" y="311.16" text-anchor="end" font-size="7.4" fill="#231f20" font-weight="normal" stroke="#231f20" stroke-width="0.2">1,000</text>
<line x1="316.6" y1="336.15" x2="319.6" y2="336.15" stroke="#404040" stroke-width="1"/>
<text x="314.1" y="338.81" text-anchor="end" font-size="7.4" fill="#231f20" font-weight="normal" stroke="#231f20" stroke-width="0.2">100</text>
<line x1="316.6" y1="363.8" x2="319.6" y2="363.8" stroke="#404040" stroke-width="1"/>
<text x="314.1" y="366.46" text-anchor="end" font-size="7.4" fill="#231f20" font-weight="normal" stroke="#231f20" stroke-width="0.2">10</text>
<line x1="316.6" y1="391.3" x2="319.6" y2="391.3" stroke="#404040" stroke-width="1"/>
<text x="314.1" y="393.96" text-anchor="end" font-size="7.4" fill="#231f20" font-weight="normal" stroke="#231f20" stroke-width="0.2">1</text>
<text transform="translate(279.4 322.3) rotate(-90)" x="0" y="2.95" text-anchor="middle" font-size="8.2" fill="#231f20" font-weight="bold" textLength="111" lengthAdjust="spacingAndGlyphs">Circulating tumor DNA (counts per mL)</text>
<line x1="319.3" y1="391.6" x2="512.5" y2="391.6" stroke="#404040" stroke-width="1.6"/>
<line x1="364.9" y1="391.6" x2="364.9" y2="394.2" stroke="#404040" stroke-width="1"/>
<text x="364.9" y="402.91" text-anchor="middle" font-size="7.8" fill="#231f20" font-weight="normal" stroke="#231f20" stroke-width="0.2">10</text>
<line x1="410.2" y1="391.6" x2="410.2" y2="394.2" stroke="#404040" stroke-width="1"/>
<text x="410.2" y="402.91" text-anchor="middle" font-size="7.8" fill="#231f20" font-weight="normal" stroke="#231f20" stroke-width="0.2">100</text>
<line x1="455.5" y1="391.6" x2="455.5" y2="394.2" stroke="#404040" stroke-width="1"/>
<text x="455.5" y="402.91" text-anchor="middle" font-size="7.8" fill="#231f20" font-weight="normal" stroke="#231f20" stroke-width="0.2">1,000</text>
<line x1="500.8" y1="391.6" x2="500.8" y2="394.2" stroke="#404040" stroke-width="1"/>
<text x="500.8" y="402.91" text-anchor="middle" font-size="7.8" fill="#231f20" font-weight="normal" stroke="#231f20" stroke-width="0.2">10,000</text>
<text x="383.5" y="416.6" font-size="9.2" fill="#231f20" font-weight="bold" textLength="103" lengthAdjust="spacingAndGlyphs">Total metabolic tumor volume (cm<tspan font-size="6" dy="-3.2">3</tspan><tspan dy="3.2">)</tspan></text>
<line x1="320.6" y1="391.6" x2="501.2" y2="280.6" stroke="#2db34a" stroke-width="1.5"/>
<circle cx="398.5" cy="316" r="1.95" fill="#2db34a"/>
<circle cx="380.2" cy="327.1" r="1.95" fill="#2db34a"/>
<circle cx="455.6" cy="252.9" r="1.95" fill="#2db34a"/>
<circle cx="453.3" cy="269.8" r="1.95" fill="#2db34a"/>
<circle cx="461.9" cy="276.2" r="1.95" fill="#2db34a"/>
<circle cx="462.9" cy="281.9" r="1.95" fill="#2db34a"/>
<circle cx="455.8" cy="289.4" r="1.95" fill="#2db34a"/>
<circle cx="474.4" cy="289.4" r="1.95" fill="#2db34a"/>
<circle cx="480.4" cy="291.9" r="1.95" fill="#2db34a"/>
<circle cx="453.8" cy="295.8" r="1.95" fill="#2db34a"/>
<circle cx="469.6" cy="295.4" r="1.95" fill="#2db34a"/>
<circle cx="467.7" cy="298.1" r="1.95" fill="#2db34a"/>
<circle cx="476.5" cy="298.3" r="1.95" fill="#2db34a"/>
<circle cx="468.7" cy="300.2" r="1.95" fill="#2db34a"/>
<circle cx="421.5" cy="299.6" r="1.95" fill="#2db34a"/>
<circle cx="447.7" cy="301.2" r="1.95" fill="#2db34a"/>
<circle cx="451" cy="302.5" r="1.95" fill="#2db34a"/>
<circle cx="454.8" cy="304.4" r="1.95" fill="#2db34a"/>
<circle cx="437.5" cy="306.3" r="1.95" fill="#2db34a"/>
<circle cx="442.7" cy="306.3" r="1.95" fill="#2db34a"/>
<circle cx="457.3" cy="307.7" r="1.95" fill="#2db34a"/>
<circle cx="462.5" cy="307.7" r="1.95" fill="#2db34a"/>
<circle cx="426" cy="309.8" r="1.95" fill="#2db34a"/>
<circle cx="459.2" cy="315" r="1.95" fill="#2db34a"/>
<circle cx="425" cy="319.8" r="1.95" fill="#2db34a"/>
<circle cx="432.7" cy="317.9" r="1.95" fill="#2db34a"/>
<circle cx="433.7" cy="321.7" r="1.95" fill="#2db34a"/>
<circle cx="466.3" cy="322.3" r="1.95" fill="#2db34a"/>
<circle cx="455.8" cy="326.2" r="1.95" fill="#2db34a"/>
<circle cx="442.3" cy="329" r="1.95" fill="#2db34a"/>
<circle cx="423.4" cy="338.1" r="1.95" fill="#2db34a"/>
<circle cx="433.4" cy="341" r="1.95" fill="#2db34a"/>
<circle cx="435.1" cy="342.7" r="1.95" fill="#2db34a"/>
<circle cx="425.1" cy="352.7" r="1.95" fill="#2db34a"/>
<circle cx="451.1" cy="354.4" r="1.95" fill="#2db34a"/>
<circle cx="434.4" cy="391.4" r="1.95" fill="#2db34a"/>
<circle cx="332.3" cy="353.5" r="1.95" fill="#2db34a"/>
<circle cx="381.3" cy="346.6" r="1.95" fill="#2db34a"/>
<circle cx="386.1" cy="346.6" r="1.95" fill="#2db34a"/>
<circle cx="391.2" cy="349.3" r="1.95" fill="#2db34a"/>
<circle cx="403.9" cy="335.7" r="1.95" fill="#2db34a"/>
<circle cx="405.8" cy="342.6" r="1.95" fill="#2db34a"/>
<circle cx="395.4" cy="375.4" r="1.95" fill="#2db34a"/>
<circle cx="398.8" cy="373.8" r="1.95" fill="#2db34a"/>
<circle cx="397" cy="387.4" r="1.95" fill="#2db34a"/>
<circle cx="453.3" cy="300.6" r="1.95" fill="#2db34a"/>
<text x="344" y="260.2" font-size="7.8" textLength="52.9" lengthAdjust="spacingAndGlyphs" fill="#231f20">r<tspan font-size="5" dy="1.5">s</tspan><tspan dy="-1.5">=0.73, p&lt;.0001</tspan></text>
<line x1="320.1" y1="465" x2="320.1" y2="600.2" stroke="#404040" stroke-width="1.3"/>
<line x1="317.1" y1="468.7" x2="320.1" y2="468.7" stroke="#404040" stroke-width="1"/>
<text x="313.75" y="471.51" text-anchor="end" font-size="7.8" fill="#231f20" font-weight="normal" stroke="#231f20" stroke-width="0.2">100</text>
<line x1="317.1" y1="497.85" x2="320.1" y2="497.85" stroke="#404040" stroke-width="1"/>
<text x="313.75" y="500.66" text-anchor="end" font-size="7.8" fill="#231f20" font-weight="normal" stroke="#231f20" stroke-width="0.2">75</text>
<line x1="317.1" y1="527" x2="320.1" y2="527" stroke="#404040" stroke-width="1"/>
<text x="313.75" y="529.81" text-anchor="end" font-size="7.8" fill="#231f20" font-weight="normal" stroke="#231f20" stroke-width="0.2">50</text>
<line x1="317.1" y1="556.15" x2="320.1" y2="556.15" stroke="#404040" stroke-width="1"/>
<text x="313.75" y="558.96" text-anchor="end" font-size="7.8" fill="#231f20" font-weight="normal" stroke="#231f20" stroke-width="0.2">25</text>
<line x1="317.1" y1="585.3" x2="320.1" y2="585.3" stroke="#404040" stroke-width="1"/>
<text x="313.75" y="588.11" text-anchor="end" font-size="7.8" fill="#231f20" font-weight="normal" stroke="#231f20" stroke-width="0.2">0</text>
<text transform="translate(295.4 527.2) rotate(-90)" x="0" y="3.31" text-anchor="middle" font-size="9.2" fill="#231f20" font-weight="bold" textLength="69" lengthAdjust="spacingAndGlyphs">Progression free survival</text>
<line x1="319.9" y1="600.4" x2="512.7" y2="600.4" stroke="#404040" stroke-width="1.7"/>
<line x1="329.7" y1="600.4" x2="329.7" y2="603.2" stroke="#404040" stroke-width="1"/>
<text x="329.7" y="612.11" text-anchor="middle" font-size="7.8" fill="#231f20" font-weight="normal" stroke="#231f20" stroke-width="0.2">0</text>
<line x1="359.7" y1="600.4" x2="359.7" y2="603.2" stroke="#404040" stroke-width="1"/>
<text x="359.7" y="612.11" text-anchor="middle" font-size="7.8" fill="#231f20" font-weight="normal" stroke="#231f20" stroke-width="0.2">2.5</text>
<line x1="389.7" y1="600.4" x2="389.7" y2="603.2" stroke="#404040" stroke-width="1"/>
<text x="389.7" y="612.11" text-anchor="middle" font-size="7.8" fill="#231f20" font-weight="normal" stroke="#231f20" stroke-width="0.2">5</text>
<line x1="419.7" y1="600.4" x2="419.7" y2="603.2" stroke="#404040" stroke-width="1"/>
<text x="419.7" y="612.11" text-anchor="middle" font-size="7.8" fill="#231f20" font-weight="normal" stroke="#231f20" stroke-width="0.2">7.5</text>
<line x1="449.7" y1="600.4" x2="449.7" y2="603.2" stroke="#404040" stroke-width="1"/>
<text x="449.7" y="612.11" text-anchor="middle" font-size="7.8" fill="#231f20" font-weight="normal" stroke="#231f20" stroke-width="0.2">10</text>
<line x1="479.7" y1="600.4" x2="479.7" y2="603.2" stroke="#404040" stroke-width="1"/>
<text x="479.7" y="612.11" text-anchor="middle" font-size="7.8" fill="#231f20" font-weight="normal" stroke="#231f20" stroke-width="0.2">12.5</text>
<line x1="509.7" y1="600.4" x2="509.7" y2="603.2" stroke="#404040" stroke-width="1"/>
<text x="509.7" y="612.11" text-anchor="middle" font-size="7.8" fill="#231f20" font-weight="normal" stroke="#231f20" stroke-width="0.2">15</text>
<text x="416.73" y="625.31" text-anchor="middle" font-size="9.2" fill="#231f20" font-weight="bold" textLength="70.95" lengthAdjust="spacingAndGlyphs">Years from on-study date</text>
<path d="M329.1 468.7H333.9V478.4H336.1V483.5H338.5V487.6H339.5V493H340.3V498.5H341.3V503.1H343.7V507.3H349.5V522H352.8V527H356.2V531.5H358.3V536.2H359.6V541.4H360.6V546.3H364.6V551.4H371.6V556.4H378.9V561.2H388.5V565.6H419.7V572.3H427.3V578.5H433.3V585" fill="none" stroke="#c8102e" stroke-width="1.35"/>
<path d="M333.9 468.7H343.1V476H343.5V483.5H346.5V488.5H347.5V493.5H348.3V500H348.9V507H350V512.3H356.7V517H359.2V521.6H363.8V536.2H371.5V541.2H375.8V546.5H378.5V551.2H405.4V555.9H429.5V563.5H505.8" fill="none" stroke="#0e4e8b" stroke-width="1.35"/>
<line x1="413.5" y1="554.4" x2="413.5" y2="557.4" stroke="#0e4e8b" stroke-width="0.8"/>
<line x1="425.8" y1="554.4" x2="425.8" y2="557.4" stroke="#0e4e8b" stroke-width="0.8"/>
<line x1="488.5" y1="562" x2="488.5" y2="565" stroke="#0e4e8b" stroke-width="0.8"/>
<line x1="491.2" y1="562" x2="491.2" y2="565" stroke="#0e4e8b" stroke-width="0.8"/>
<line x1="505.8" y1="562" x2="505.8" y2="565" stroke="#0e4e8b" stroke-width="0.8"/>
<line x1="399.5" y1="473.75" x2="416.25" y2="473.75" stroke="#0e4e8b" stroke-width="1.5"/>
<line x1="399.5" y1="484.5" x2="416.25" y2="484.5" stroke="#c8102e" stroke-width="1.5"/>
<text x="466.88" y="476.11" text-anchor="middle" font-size="7.8" fill="#231f20" font-weight="normal" textLength="88.75" lengthAdjust="spacingAndGlyphs" stroke="#231f20" stroke-width="0.2">Circulating tumor DNA low</text>
<text x="467.88" y="487.11" text-anchor="middle" font-size="7.8" fill="#231f20" font-weight="normal" textLength="90.75" lengthAdjust="spacingAndGlyphs" stroke="#231f20" stroke-width="0.2">Circulating tumor DNA high</text>
<text x="343.1" y="577.81" text-anchor="middle" font-size="7.8" fill="#231f20" font-weight="normal" textLength="19.2" lengthAdjust="spacingAndGlyphs" stroke="#231f20" stroke-width="0.2">p=.10</text>
<text x="291.6" y="634.41" text-anchor="middle" font-size="7.8" fill="#231f20" font-weight="normal" textLength="44.6" lengthAdjust="spacingAndGlyphs" stroke="#231f20" stroke-width="0.2">Number at risk</text>
<text x="297.15" y="642.61" text-anchor="middle" font-size="7.8" fill="#0e4e8b" font-weight="normal" textLength="33.5" lengthAdjust="spacingAndGlyphs">ctDNA low</text>
<text x="295.95" y="650.21" text-anchor="middle" font-size="7.8" fill="#c8102e" font-weight="normal" textLength="35.9" lengthAdjust="spacingAndGlyphs">ctDNA high</text>
<text x="329.5" y="642.31" text-anchor="middle" font-size="7.8" fill="#0e4e8b" font-weight="normal">24</text>
<text x="388.9" y="642.31" text-anchor="middle" font-size="7.8" fill="#0e4e8b" font-weight="normal">7</text>
<text x="449.2" y="642.31" text-anchor="middle" font-size="7.8" fill="#0e4e8b" font-weight="normal">3</text>
<text x="509.2" y="642.31" text-anchor="middle" font-size="7.8" fill="#0e4e8b" font-weight="normal">0</text>
<text x="329.5" y="650.11" text-anchor="middle" font-size="7.8" fill="#c8102e" font-weight="normal">24</text>
<text x="388.9" y="650.11" text-anchor="middle" font-size="7.8" fill="#c8102e" font-weight="normal">4</text>
<text x="449.2" y="650.11" text-anchor="middle" font-size="7.8" fill="#c8102e" font-weight="normal">0</text>
<rect x="0.6" y="0.6" width="518.8" height="655.8" fill="none" stroke="#000" stroke-width="1.2"/>
</svg>
</body></html>
